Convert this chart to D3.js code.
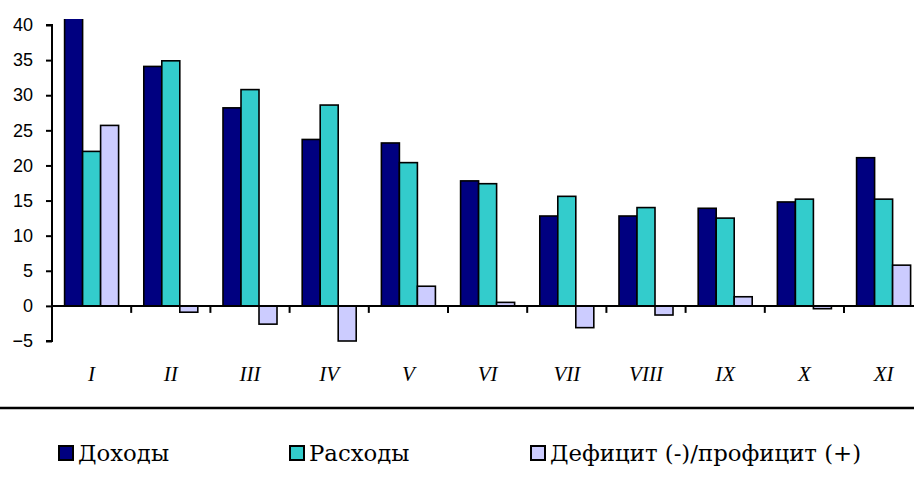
<!DOCTYPE html>
<html><head><meta charset="utf-8">
<script src="https://cdn.jsdelivr.net/npm/d3@7"></script>
<style>html,body{margin:0;padding:0;background:#fff;overflow:hidden}</style>
</head><body>
<svg id="chart" width="914" height="496"></svg>
<script>
const categories = ["I","II","III","IV","V","VI","VII","VIII","IX","X","XI"];
const seriesNames = ["Доходы","Расходы","Дефицит (-)/профицит (+)"];
const income  = [47.7, 34.1, 28.2, 23.7, 23.2, 17.8, 12.8, 12.8, 13.9, 14.8, 21.1];
const expense = [22.0, 34.9, 30.8, 28.6, 20.4, 17.4, 15.6, 14.0, 12.5, 15.2, 15.2];
const balance = [25.7, -0.9, -2.6, -5.0, 2.8, 0.5, -3.1, -1.3, 1.3, -0.4, 5.8];
const yTicks = [-5, 0, 5, 10, 15, 20, 25, 30, 35, 40];
const colors = ["#000080", "#33CCCC", "#CCCCFF"];

const series = [income, expense, balance];
const svg = d3.select("#chart");

const left = 52, step = 79.2;
const x = d3.scaleBand().domain(categories)
  .range([left, left + step * categories.length])
  .paddingInner(0.318).paddingOuter(0.159);
const xs = d3.scaleBand().domain(d3.range(series.length)).range([0, x.bandwidth()]);
const y = d3.scaleLinear().domain([-5, 40]).range([341, 25]);

svg.append("defs").append("clipPath").attr("id", "plotclip")
  .append("rect").attr("x", left).attr("y", 19).attr("width", 914 - left).attr("height", 360);

const gBars = svg.append("g").attr("clip-path", "url(#plotclip)");
series.forEach((vals, si) => {
  gBars.selectAll(null).data(vals).enter().append("rect")
    .attr("x", (d, i) => x(categories[i]) + xs(si))
    .attr("width", xs.bandwidth())
    .attr("y", d => y(Math.max(0, d)))
    .attr("height", d => Math.abs(y(d) - y(0)))
    .attr("fill", colors[si])
    .attr("stroke", "#000").attr("stroke-width", 1.6);
});

// Y axis
const yAxis = d3.axisLeft(y).tickValues(yTicks).tickSize(6).tickPadding(13).tickFormat(d3.format("d"));
const gy = svg.append("g").attr("transform", `translate(${left},0)`).call(yAxis);
gy.select(".domain").attr("stroke", "#000").attr("stroke-width", 2).attr("d", `M-6,${y(40)}H0V${y(-5)}H-6`);
gy.selectAll(".tick line").attr("stroke", "#000").attr("stroke-width", 2);
gy.selectAll(".tick text").attr("font-family", "Liberation Sans, Arial, sans-serif")
  .attr("font-size", 18).attr("fill", "#000");

// X axis at zero
const boundaries = d3.range(1, categories.length + 1).map(i => left + step * i);
svg.append("line").attr("x1", left).attr("x2", 914).attr("y1", y(0)).attr("y2", y(0))
  .attr("stroke", "#000").attr("stroke-width", 2);
svg.selectAll(".xt").data(boundaries).enter().append("line")
  .attr("x1", d => d).attr("x2", d => d).attr("y1", y(0)).attr("y2", y(0) + 7)
  .attr("stroke", "#000").attr("stroke-width", 2);

svg.selectAll(".cl").data(categories).enter().append("text")
  .attr("x", d => x(d) + x.bandwidth() / 2).attr("y", 381)
  .attr("text-anchor", "middle")
  .attr("font-family", "Liberation Serif, Times New Roman, serif")
  .attr("font-style", "italic").attr("font-size", 21).text(d => d);

// separator line
svg.append("line").attr("x1", 0).attr("x2", 914).attr("y1", 408).attr("y2", 408)
  .attr("stroke", "#000").attr("stroke-width", 2.5);

// legend
const legendX = [59, 290, 531];
seriesNames.forEach((name, i) => {
  svg.append("rect").attr("x", legendX[i]).attr("y", 446).attr("width", 14).attr("height", 14)
    .attr("fill", colors[i]).attr("stroke", "#000").attr("stroke-width", 2);
  svg.append("text").attr("x", legendX[i] + 19).attr("y", 461)
    .attr("font-family", "'DejaVu Serif', serif").attr("font-size", 22.8).text(name);
});
</script>
</body></html>
